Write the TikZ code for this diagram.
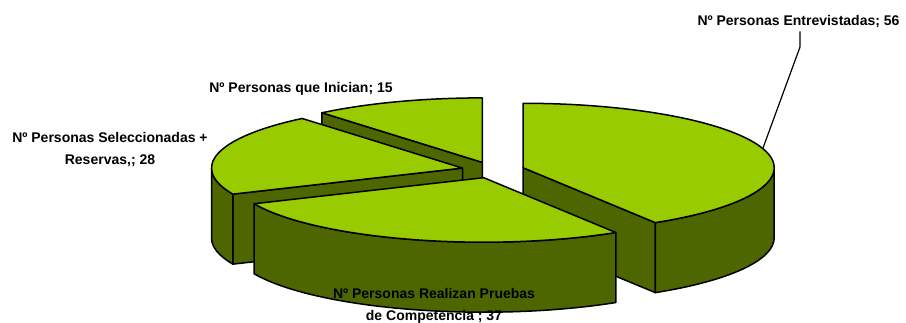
\documentclass[tikz,border=0pt]{standalone}
\usepackage{fontspec}
\setmainfont{Liberation Sans}
\usetikzlibrary{calc}
\definecolor{topgreen}{RGB}{153,204,0}
\definecolor{sidegreen}{RGB}{77,102,0}
\begin{document}
\begin{tikzpicture}[x=1pt,y=1pt,
  topface/.style={fill=topgreen,draw=black,line width=1.5pt,line join=round},
  sideface/.style={fill=sidegreen,draw=black,line width=1.5pt,line join=round},
  lbl/.style={font=\fontsize{14}{22}\selectfont\bfseries,inner sep=0pt,align=center},
  leader/.style={draw=black,line width=1.2pt}]
\useasboundingbox (0,0) rectangle (906,323);
\def\ra{251}\def\rb{64.5}\def\dp{70}
% slice centres (exploded)
\coordinate (c1) at (523.2,155.2);   % 56
\coordinate (c2) at (483.7,145.3);   % 37
\coordinate (c3) at (462.5,154.9);   % 28
\coordinate (c4) at (482.3,160.6);   % 15
\coordinate (d) at (0,-\dp);
% ---- slice 15 (90 .. 129.706)
\draw[sideface] (c4) -- ($(c4)+({\ra*cos(129.706)},{\rb*sin(129.706)})$) coordinate (p4a)
  -- ($(p4a)+(d)$) -- ($(c4)+(d)$) -- cycle;
\draw[topface] (c4) -- ($(c4)+(0,\rb)$) arc[start angle=90,end angle=129.706,x radius=\ra,y radius=\rb] -- cycle;
% ---- slice 56 (-58.235 .. 90)
\draw[sideface] (c1) -- ($(c1)+({\ra*cos(-58.235)},{\rb*sin(-58.235)})$) coordinate (p1a)
  -- ($(p1a)+(d)$) -- ($(c1)+(d)$) -- cycle;
\draw[sideface] ($(c1)+(\ra,0)$) arc[start angle=0,end angle=-58.235,x radius=\ra,y radius=\rb]
  -- ++(d) arc[start angle=-58.235,end angle=0,x radius=\ra,y radius=\rb] -- cycle;
\draw[topface] (c1) -- (p1a) arc[start angle=-58.235,end angle=90,x radius=\ra,y radius=\rb] -- cycle;
% ---- slice 28 (129.706 .. 203.824)
\draw[sideface] (c3) -- ($(c3)+({\ra*cos(203.824)},{\rb*sin(203.824)})$) coordinate (p3a)
  -- ($(p3a)+(d)$) -- ($(c3)+(d)$) -- cycle;
\draw[sideface] ($(c3)+(-\ra,0)$) arc[start angle=180,end angle=203.824,x radius=\ra,y radius=\rb]
  -- ++(d) arc[start angle=203.824,end angle=180,x radius=\ra,y radius=\rb] -- cycle;
\draw[topface] (c3) -- ($(c3)+({\ra*cos(129.706)},{\rb*sin(129.706)})$)
  arc[start angle=129.706,end angle=203.824,x radius=\ra,y radius=\rb] -- cycle;
% ---- slice 37 (203.824 .. 301.765)
\draw[sideface] ($(c2)+({\ra*cos(203.824)},{\rb*sin(203.824)})$) coordinate (p2a)
  arc[start angle=203.824,end angle=301.765,x radius=\ra,y radius=\rb]
  -- ++(d) arc[start angle=301.765,end angle=203.824,x radius=\ra,y radius=\rb] -- cycle;
\draw[topface] (c2) -- (p2a) arc[start angle=203.824,end angle=301.765,x radius=\ra,y radius=\rb] -- cycle;
% ---- labels
\node[lbl] (lE) at (798.5,303) {Nº Personas Entrevistadas; 56};
\node[lbl] (lI) at (301,236) {Nº Personas que Inician; 15};
\node[lbl] (lS) at (110,175) {Nº Personas Seleccionadas +\\Reservas,; 28};
\node[lbl] (lP) at (434,19) {Nº Personas Realizan Pruebas\\de Competencia ; 37};
\coordinate (t1) at (800,276);
\coordinate (t2) at (763,175);
\draw[leader] (lE.south -| t1) ++(0,-6) -- (t1) -- (t2);
\end{tikzpicture}
\end{document}
